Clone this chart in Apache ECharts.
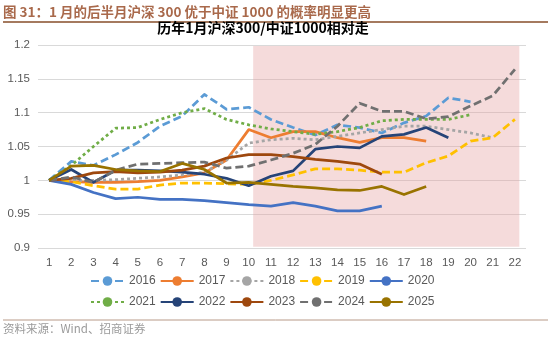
<!DOCTYPE html>
<html>
<head>
<meta charset="utf-8">
<script src="https://cdn.jsdelivr.net/npm/echarts@6/dist/echarts.min.js"></script>
<style>
  html, body { margin: 0; padding: 0; background: #ffffff; }
  #chart { width: 550px; height: 337px; }
</style>
</head>
<body>
<div id="chart"></div>
<script>
// Trading-day index within the month (x axis)
const categories = ['1','2','3','4','5','6','7','8','9','10','11','12','13','14','15','16','17','18','19','20','21','22'];

// Y axis range and step
const yMin = 0.9;
const yMax = 1.2;
const yStep = 0.05;

// CSI 300 / CSI 1000 relative performance in January, normalised to 1 on day 1
const y2016 = [1, 1.028, 1.022, 1.038, 1.056, 1.08, 1.095, 1.127, 1.105, 1.108, 1.09, 1.078, 1.067, 1.082, 1.078, 1.07, 1.085, 1.095, 1.122, 1.116];
const y2017 = [1, 0.998, 0.997, 0.997, 0.998, 1.0, 1.005, 1.011, 1.03, 1.075, 1.063, 1.072, 1.072, 1.063, 1.056, 1.063, 1.063, 1.058];
const y2018 = [1, 1.0, 1.0, 1.001, 1.003, 1.005, 1.008, 1.012, 1.03, 1.055, 1.06, 1.062, 1.06, 1.065, 1.07, 1.075, 1.08, 1.08, 1.075, 1.07, 1.063];
const y2019 = [1, 0.998, 0.992, 0.987, 0.987, 0.993, 0.996, 0.996, 0.995, 0.994, 1.0, 1.008, 1.017, 1.017, 1.015, 1.012, 1.012, 1.026, 1.036, 1.058, 1.063, 1.09];
const y2020 = [1, 0.994, 0.982, 0.973, 0.975, 0.972, 0.972, 0.97, 0.967, 0.964, 0.962, 0.967, 0.962, 0.955, 0.955, 0.962];
const y2021 = [1, 1.022, 1.05, 1.077, 1.078, 1.09, 1.1, 1.106, 1.09, 1.082, 1.076, 1.072, 1.068, 1.072, 1.078, 1.088, 1.09, 1.09, 1.09, 1.097];
const y2022 = [1, 1.016, 0.997, 1.015, 1.015, 1.014, 1.012, 1.009, 1.003, 0.992, 1.006, 1.014, 1.046, 1.05, 1.048, 1.065, 1.068, 1.078, 1.063];
const y2023 = [1, 1.003, 1.011, 1.013, 1.011, 1.012, 1.015, 1.021, 1.033, 1.038, 1.038, 1.035, 1.031, 1.028, 1.024, 1.009];
const y2024 = [1, 1.005, 0.997, 1.015, 1.024, 1.025, 1.026, 1.027, 1.018, 1.021, 1.03, 1.04, 1.053, 1.08, 1.114, 1.102, 1.102, 1.091, 1.094, 1.11, 1.125, 1.164];
const y2025 = [1, 1.021, 1.022, 1.016, 1.014, 1.013, 1.025, 1.016, 0.996, 0.997, 0.994, 0.991, 0.989, 0.986, 0.985, 0.991, 0.979, 0.991];

// Second half of the month, shaded (in day units on a hidden value axis)
const shadeFrom = 10.2;
const shadeTo = 22.2;

const legendRow1 = ['2016', '2017', '2018', '2019', '2020'];
const legendRow2 = ['2021', '2022', '2023', '2024', '2025'];

const yearData = {
  '2016': y2016, '2017': y2017, '2018': y2018, '2019': y2019, '2020': y2020,
  '2021': y2021, '2022': y2022, '2023': y2023, '2024': y2024, '2025': y2025
};

const DASH = [8, 4];
const DOT = [3, 3];
const yearStyle = {
  '2016': { color: '#5b9bd5', type: DASH },
  '2017': { color: '#ed7d31', type: 'solid' },
  '2018': { color: '#a5a5a5', type: DOT },
  '2019': { color: '#ffc000', type: DASH },
  '2020': { color: '#4472c4', type: 'solid' },
  '2021': { color: '#70ad47', type: DOT },
  '2022': { color: '#264478', type: 'solid' },
  '2023': { color: '#9e480e', type: 'solid' },
  '2024': { color: '#707070', type: DASH },
  '2025': { color: '#997300', type: 'solid' }
};

const FONT = '"Liberation Sans", Arial, sans-serif';
const CJK = '"Noto Sans CJK SC", "Liberation Sans", sans-serif';

const lineSeries = legendRow1.concat(legendRow2).map(function (year) {
  const st = yearStyle[year];
  return {
    name: year,
    type: 'line',
    xAxisIndex: 0,
    yAxisIndex: 0,
    data: yearData[year],
    symbol: 'none',
    showSymbol: false,
    smooth: false,
    z: 3,
    lineStyle: { color: st.color, width: 2.75, type: st.type, cap: 'butt', join: 'round' },
    itemStyle: { color: st.color },
    emphasis: { disabled: true }
  };
});

const shadeSeries = {
  name: 'shade',
  type: 'line',
  xAxisIndex: 1,
  yAxisIndex: 0,
  data: [],
  silent: true,
  z: 1,
  markArea: {
    silent: true,
    itemStyle: { color: 'rgba(228, 160, 160, 0.38)' },
    data: [[{ xAxis: shadeFrom, yAxis: yMax - 0.0015 }, { xAxis: shadeTo, yAxis: yMin + 0.002 }]]
  }
};

const legendBase = {
  left: 90,
  itemWidth: 33,
  itemHeight: 12,
  itemGap: 4,
  padding: 0,
  selectedMode: false,
  textStyle: { fontSize: 12, color: '#595959', fontFamily: FONT, padding: [0, 0, 0, 0] }
};

const chart = echarts.init(document.getElementById('chart'), null, { renderer: 'canvas' });
chart.setOption({
  animation: false,
  backgroundColor: '#ffffff',
  grid: { left: 38, right: 24, top: 45, bottom: 89, containLabel: false },
  xAxis: [
    {
      type: 'category',
      data: categories,
      boundaryGap: true,
      axisLine: { show: false },
      axisTick: { show: false },
      splitLine: { show: false },
      axisLabel: { color: '#595959', fontSize: 11.5, fontFamily: FONT, margin: 9, interval: 0 }
    },
    { type: 'value', min: 0.5, max: 22.5, show: false }
  ],
  yAxis: {
    type: 'value',
    min: yMin,
    max: yMax,
    interval: yStep,
    axisLine: { show: false },
    axisTick: { show: false },
    splitLine: { lineStyle: { color: '#d9d9d9', width: 1 } },
    axisLabel: { color: '#595959', fontSize: 11.5, fontFamily: FONT, margin: 8 }
  },
  legend: [
    Object.assign({}, legendBase, { top: 275, data: legendRow1 }),
    Object.assign({}, legendBase, { top: 296, data: legendRow2 })
  ],
  graphic: [
    {
      type: 'line', z: 100,
      shape: { x1: 3, y1: 22, x2: 548, y2: 22 },
      style: { stroke: '#a57a5f', lineWidth: 2 }
    },
    {
      type: 'text', x: 3, y: 12, z: 100,
      style: {
        text: '图 31：1 月的后半月沪深 300 优于中证 1000 的概率明显更高',
        fill: '#a9694b', font: 'bold 13.5px ' + CJK,
        textAlign: 'left', textVerticalAlign: 'middle'
      }
    },
    {
      type: 'text', x: 263, y: 28, z: 100,
      style: {
        text: '历年1月沪深300/中证1000相对走',
        fill: '#000000', font: 'bold 14px ' + CJK,
        textAlign: 'center', textVerticalAlign: 'middle'
      }
    },
    {
      type: 'line', z: 100,
      shape: { x1: 3, y1: 320, x2: 548, y2: 320 },
      style: { stroke: '#b89a88', lineWidth: 1 }
    },
    {
      type: 'text', x: 3, y: 329, z: 100,
      style: {
        text: '资料来源：Wind、招商证券',
        fill: '#9a9a9a', font: '11.5px ' + CJK,
        textAlign: 'left', textVerticalAlign: 'middle'
      }
    }
  ],
  series: [shadeSeries].concat(lineSeries)
});
</script>
</body>
</html>
